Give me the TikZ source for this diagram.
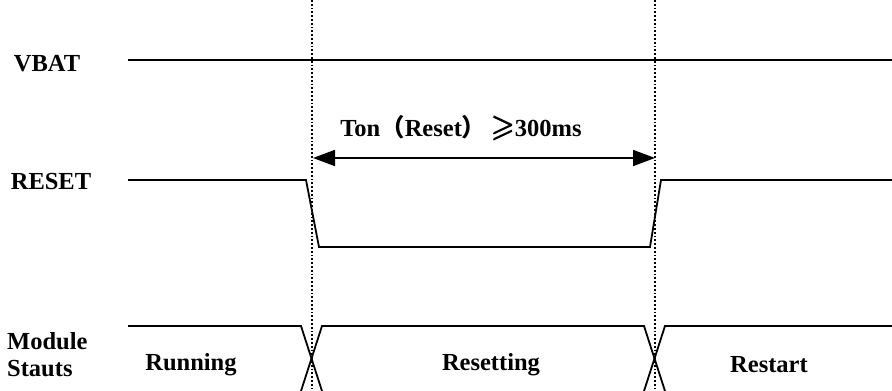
\documentclass[tikz,border=0pt]{standalone}
\usepackage{amssymb}
\usepackage{fontspec}
\setmainfont{Liberation Serif}
\newfontfamily\cjk{Noto Sans CJK SC}
\usetikzlibrary{arrows.meta}
\newcommand{\boldgeq}{\scalebox{1.25}{\rlap{$\geqslant$}\kern0.5pt\rlap{$\geqslant$}\raisebox{0.4pt}{$\geqslant$}}}
\begin{document}
\begin{tikzpicture}[x=1pt,y=-1pt,
  sig/.style={line width=1.8pt},
  guide/.style={line width=1.8pt,dash pattern=on 1.8pt off 2pt},
  lbl/.style={font=\fontsize{24.5}{27}\selectfont\bfseries,inner sep=0pt},
  dim/.style={line width=1.8pt,{Triangle[length=22pt,width=16pt]}-{Triangle[length=22pt,width=16pt]}}]
\useasboundingbox[fill=white] (0,0) rectangle (892,391);
% guide lines
\coordinate (g1t) at (312,0); \coordinate (g1b) at (312,391);
\coordinate (g2t) at (655,0); \coordinate (g2b) at (655,391);
\draw[guide] (g1t) -- (g1b);
\draw[guide] (g2t) -- (g2b);
% labels
\node[lbl] (vbat) at (47,64) {VBAT};
\node[lbl] (reset) at (51,182) {RESET};
\node[lbl,align=left,anchor=west,font=\fontsize{24.5}{27}\selectfont\bfseries] (mod) at (7,355) {Module\\Stauts};
% VBAT
\coordinate (v0) at (128,60); \coordinate (v1) at (892,60);
\draw[sig] (v0) -- (v1);
% RESET
\coordinate (r0) at (128,180); \coordinate (r1) at (306,180);
\coordinate (r2) at (319,247); \coordinate (r3) at (650,247);
\coordinate (r4) at (661,180); \coordinate (r5) at (892,180);
\draw[sig] (r0) -- (r1) -- (r2) -- (r3) -- (r4) -- (r5);
% dimension arrow
\coordinate (a0) at (313,158); \coordinate (a1) at (655,158);
\draw[dim] (a0) -- (a1);
\node[lbl] (ton) at (461,128) {Ton{\cjk（}Reset{\cjk）}\,\boldgeq300ms};
% Module status
\coordinate (m0) at (128,326); \coordinate (m1) at (301,326);
\coordinate (m2) at (322,391); \coordinate (m3) at (322,326);
\coordinate (m4) at (301,391);
\coordinate (m5) at (644,326); \coordinate (m6) at (665,391);
\coordinate (m7) at (665,326); \coordinate (m8) at (644,391);
\coordinate (m9) at (892,326);
\draw[sig] (m0) -- (m1) -- (m2);
\draw[sig] (m4) -- (m3) -- (m5) -- (m6);
\draw[sig] (m8) -- (m7) -- (m9);
\node[lbl] (run) at (191,365) {Running};
\node[lbl] (rst) at (491,365) {Resetting};
\node[lbl] (rsa) at (769,365) {Restart};
\end{tikzpicture}
\end{document}
